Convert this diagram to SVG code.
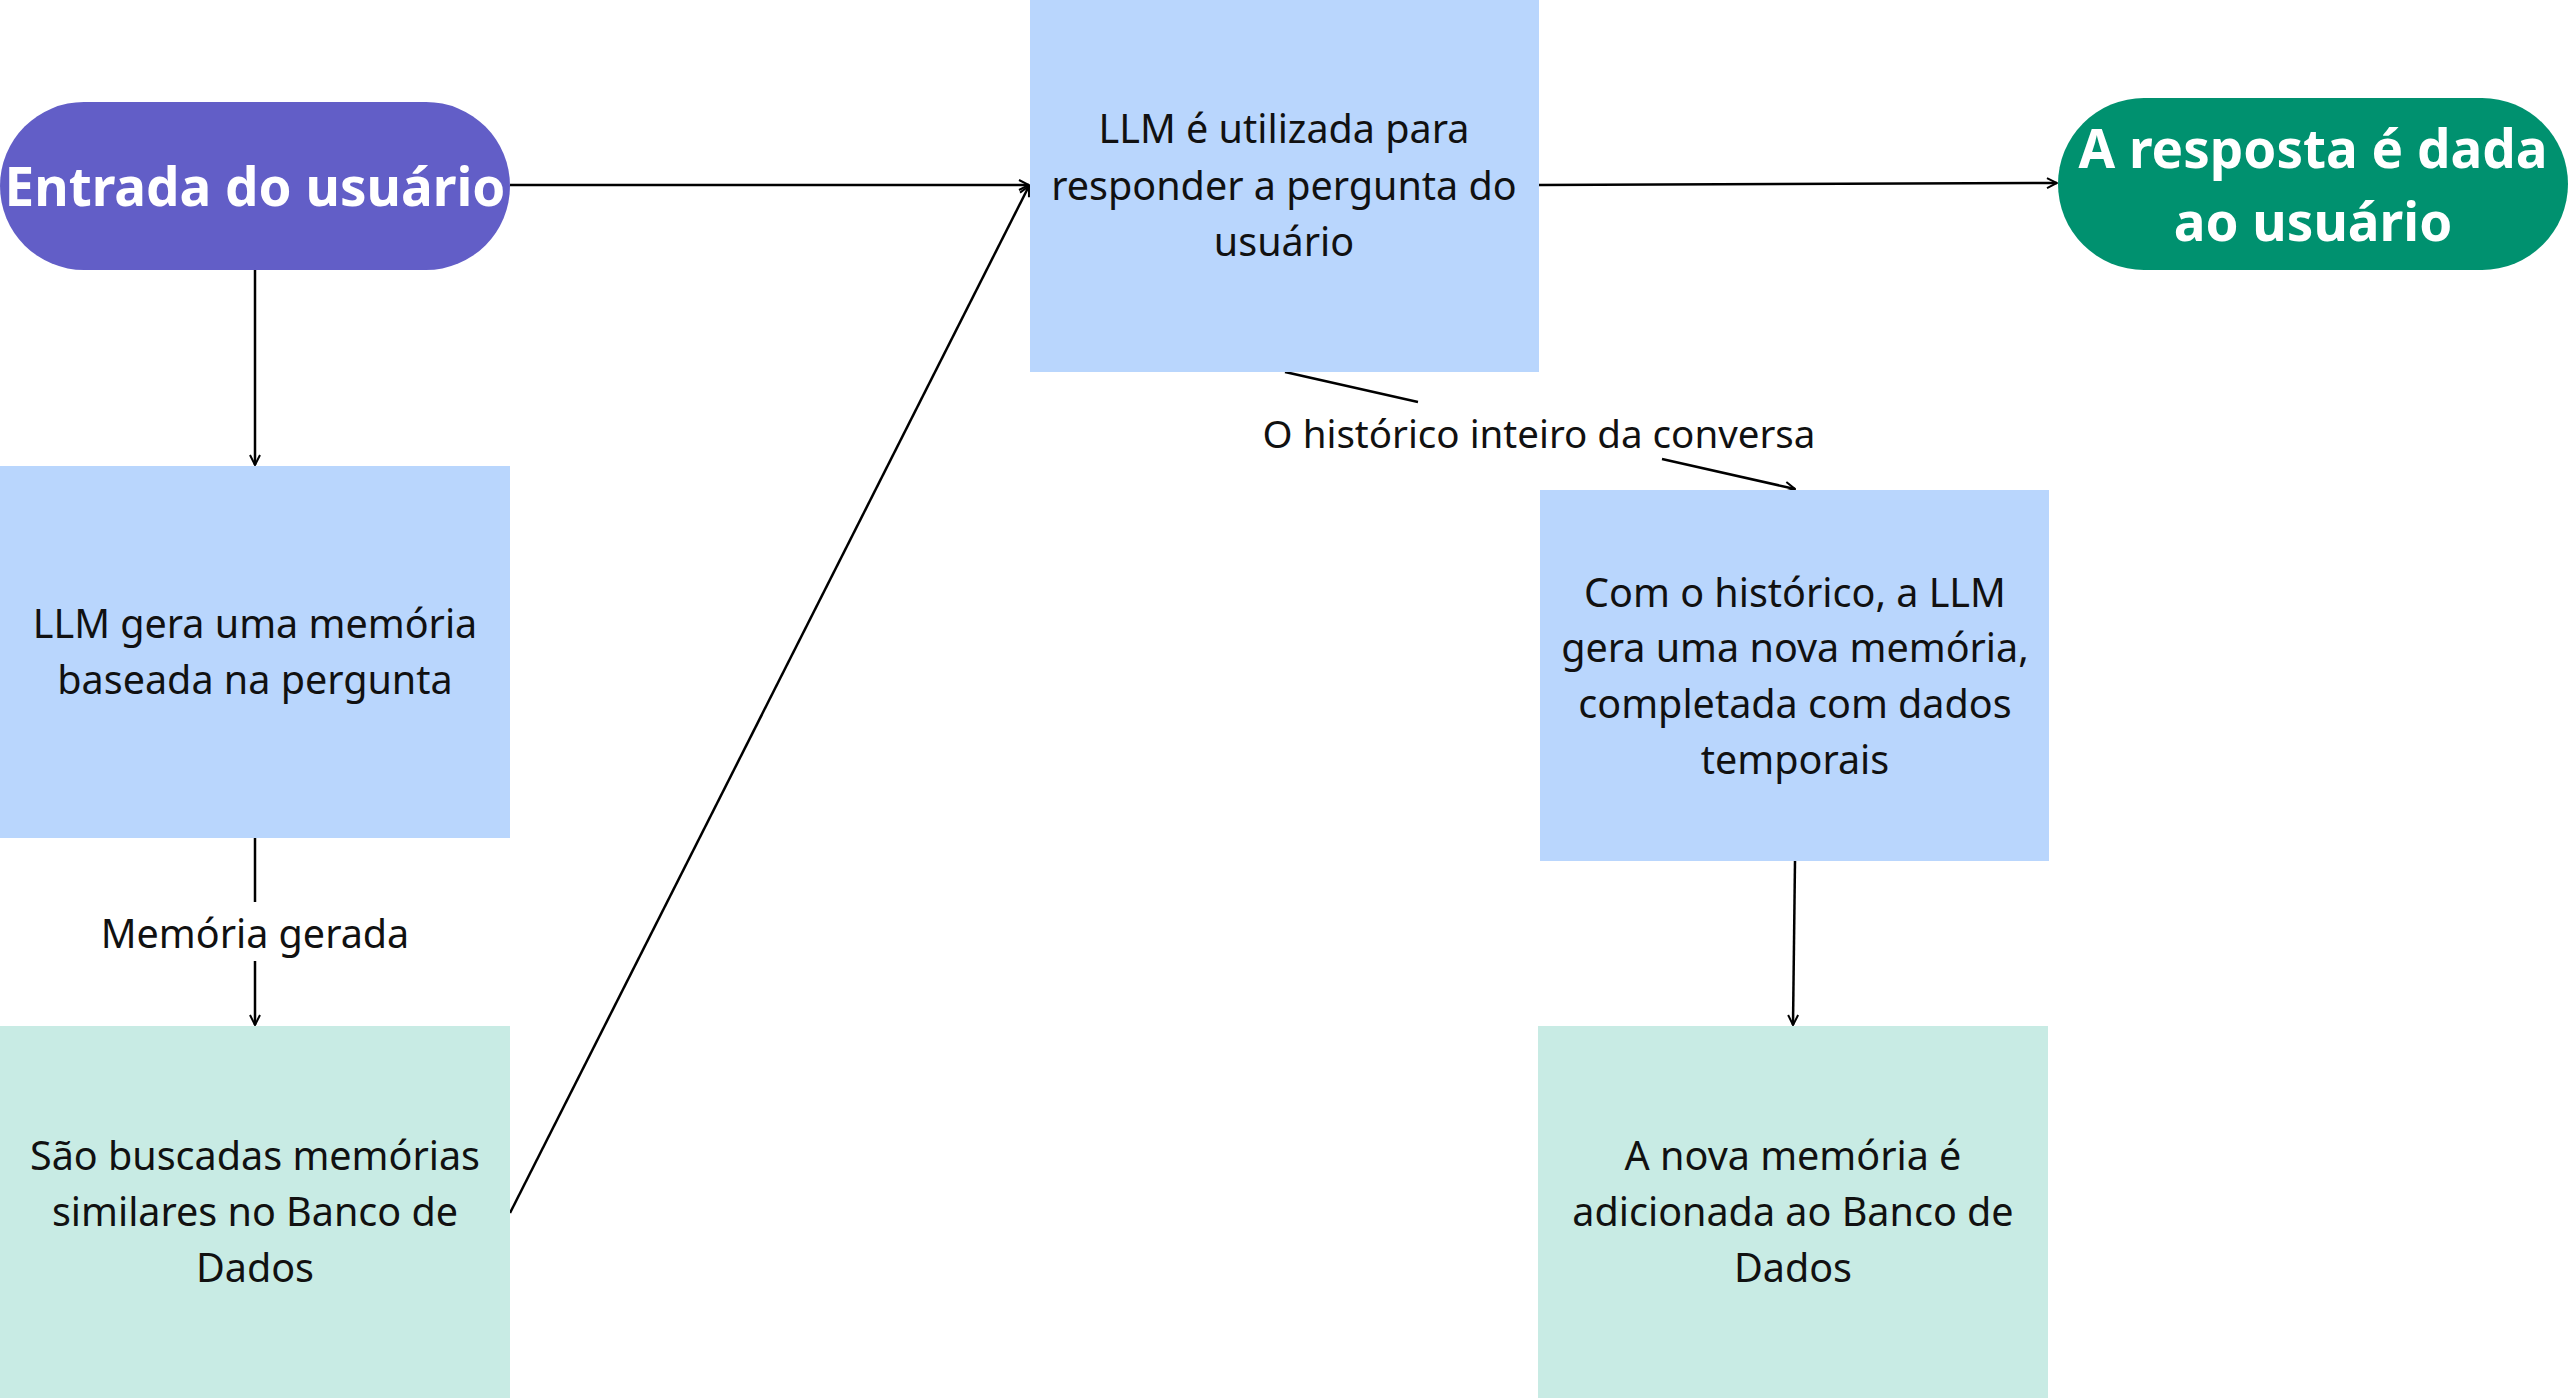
<svg xmlns="http://www.w3.org/2000/svg" width="2570" height="1398" viewBox="0 0 2570 1398">
<defs>
<marker id="arr" viewBox="0 0 12 12" refX="11" refY="6" markerWidth="12" markerHeight="12" markerUnits="userSpaceOnUse" orient="auto">
<path d="M1,1 L11,6 L1,11" fill="none" stroke="#000" stroke-width="2"/>
</marker>
<style>
.t{font-family:"Noto Sans","Open Sans","DejaVu Sans",sans-serif;font-size:39.5px;fill:#111;text-anchor:middle;dominant-baseline:central}
.tb{font-family:"Noto Sans","Open Sans","DejaVu Sans",sans-serif;font-size:53px;font-weight:bold;fill:#fff;text-anchor:middle;dominant-baseline:central}
.blue{fill:#b9d6fd}
.green{fill:#c8ebe4}
.c{fill:none;stroke:#000;stroke-width:2.5}
</style>
</defs>
<rect width="2570" height="1398" fill="#fff"/>
<g id="connectors">
<line class="c" x1="510" y1="185" x2="1029" y2="185" marker-end="url(#arr)"/>
<line class="c" x1="1539" y1="185" x2="2057" y2="183" marker-end="url(#arr)"/>
<line class="c" x1="255" y1="270" x2="255" y2="465" marker-end="url(#arr)"/>
<line class="c" x1="255" y1="838" x2="255" y2="902"/>
<line class="c" x1="255" y1="961" x2="255" y2="1025" marker-end="url(#arr)"/>
<line class="c" x1="510" y1="1213" x2="1029" y2="186" marker-end="url(#arr)"/>
<line class="c" x1="1285" y1="372" x2="1418" y2="402"/>
<line class="c" x1="1662" y1="459" x2="1795" y2="489" marker-end="url(#arr)"/>
<line class="c" x1="1795" y1="861" x2="1793" y2="1025" marker-end="url(#arr)"/>
<text class="t" x="255" y="933">Memória gerada</text>
<text class="t" x="1539" y="433" style="font-size:38.5px">O histórico inteiro da conversa</text>
</g>
<g id="entrada">
<rect x="0" y="102" width="510" height="168" rx="84" ry="84" fill="#625ec7"/>
<text class="tb" x="255" y="185">Entrada do usuário</text>
</g>
<g id="llm-resposta">
<rect class="blue" x="1030" y="0" width="509" height="372"/>
<text class="t" x="1284" y="128">LLM é utilizada para</text>
<text class="t" x="1284" y="185">responder a pergunta do</text>
<text class="t" x="1284" y="241">usuário</text>
</g>
<g id="resposta">
<rect x="2058" y="98" width="510" height="172" rx="86" ry="86" fill="#00916f"/>
<text class="tb" x="2313" y="147">A resposta é dada</text>
<text class="tb" x="2313" y="220">ao usuário</text>
</g>
<g id="llm-memoria">
<rect class="blue" x="0" y="466" width="510" height="372"/>
<text class="t" x="255" y="623">LLM gera uma memória</text>
<text class="t" x="255" y="679">baseada na pergunta</text>
</g>
<g id="busca">
<rect class="green" x="0" y="1026" width="510" height="372"/>
<text class="t" x="255" y="1155">São buscadas memórias</text>
<text class="t" x="255" y="1211">similares no Banco de</text>
<text class="t" x="255" y="1267">Dados</text>
</g>
<g id="nova-memoria">
<rect class="blue" x="1540" y="490" width="509" height="371"/>
<text class="t" x="1795" y="592">Com o histórico, a LLM</text>
<text class="t" x="1795" y="647">gera uma nova memória,</text>
<text class="t" x="1795" y="703">completada com dados</text>
<text class="t" x="1795" y="759">temporais</text>
</g>
<g id="adiciona">
<rect class="green" x="1538" y="1026" width="510" height="372"/>
<text class="t" x="1793" y="1155">A nova memória é</text>
<text class="t" x="1793" y="1211">adicionada ao Banco de</text>
<text class="t" x="1793" y="1267">Dados</text>
</g>
</svg>
